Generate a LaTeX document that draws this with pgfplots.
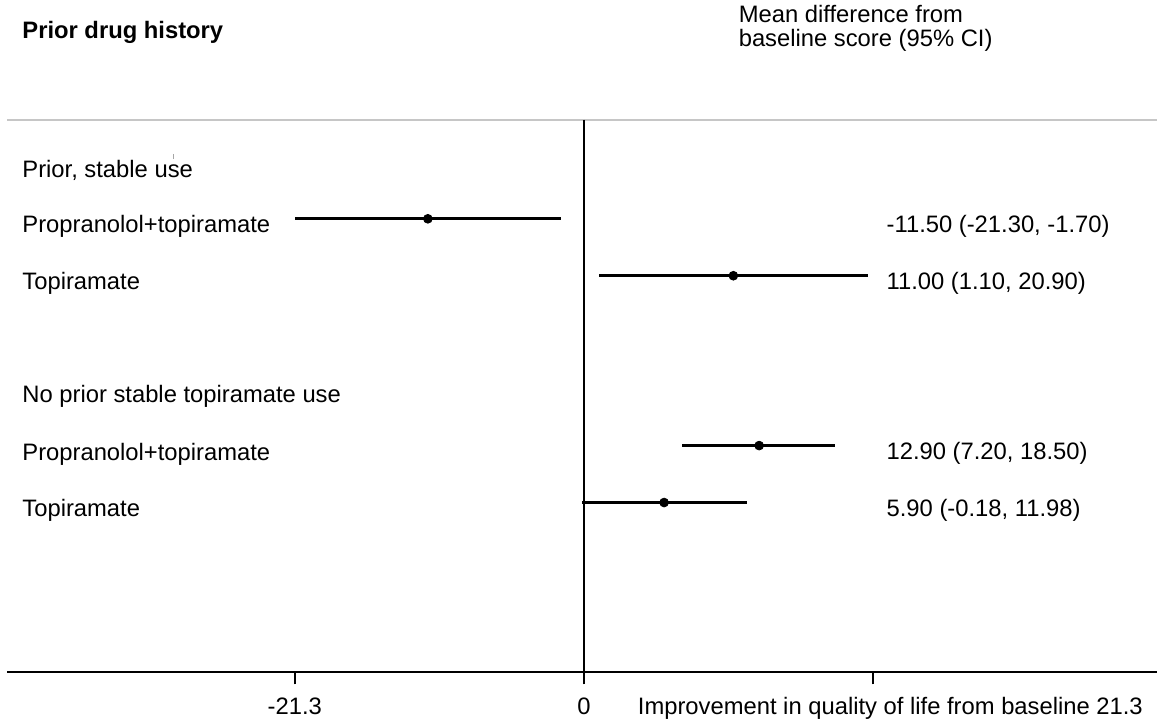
\documentclass[border=0pt]{standalone}
\usepackage{pgfplots}
\pgfplotsset{compat=1.18}
\usepackage{pgfplotstable}
\usepackage{fontspec}
\setmainfont{Liberation Sans}

\pgfplotstableread{
est   y     em    ep
-11.50 -219 9.80 9.80
11.00 -276 9.90 9.90
12.90 -446 5.70 5.60
5.90  -503 6.08 6.08
}\cidata

\begin{document}
\begin{tikzpicture}[font=\fontsize{11.9}{14}\selectfont, every node/.style={inner sep=0pt}]
\begin{axis}[
  scale only axis,
  width=575.5pt, height=276.5pt,
  xmin=-42.49, xmax=42.20,
  ymin=-673, ymax=-120,
  enlargelimits=false,
  clip=false,
  axis x line*=bottom,
  axis y line=none,
  x axis line style={line width=1pt, black, -},
  xtick={-21.3,0,21.3},
  xticklabels={,,},
  tick align=outside,
  major tick length=6pt,
  xtick style={line width=1pt, black},
]
% invisible bounding box (1158 x 724 px)
\path (axis cs:-43.01,0) rectangle (axis cs:42.20,-724);

% top gray rule
\addplot[gray!45, line width=1pt] coordinates {(-42.49,-120) (42.20,-120)};
% zero line
\addplot[black, line width=1pt] coordinates {(0,-120) (0,-673)};

% estimates with CIs
\addplot[only marks, mark=*, mark size=2.2pt, black,
  error bars/.cd, x dir=both, x explicit, error mark=none,
  error bar style={line width=1.4pt, black}]
  table[x=est, y=y, x error minus=em, x error plus=ep] {\cidata};

% small stray tick near "use"
\draw[gray!70, line width=0.5pt] (axis cs:-30.21,-154) -- (axis cs:-30.21,-159);

% headers
\node[anchor=base west, font=\fontsize{11.9}{14}\selectfont\bfseries] at (axis cs:-41.39,-39) {Prior drug history};
\node[anchor=base west] at (axis cs:11.37,-23) {Mean difference from};
\node[anchor=base west] at (axis cs:11.37,-47) {baseline score (95\% CI)};

% left labels
\node[anchor=base west] at (axis cs:-41.39,-178) {Prior, stable use};
\node[anchor=base west] at (axis cs:-41.39,-233) {Propranolol+topiramate};
\node[anchor=base west] at (axis cs:-41.39,-290) {Topiramate};
\node[anchor=base west] at (axis cs:-41.39,-403) {No prior stable topiramate use};
\node[anchor=base west] at (axis cs:-41.39,-461) {Propranolol+topiramate};
\node[anchor=base west] at (axis cs:-41.39,-517) {Topiramate};

% right labels
\node[anchor=base west] at (axis cs:22.26,-233) {-11.50 (-21.30, -1.70)};
\node[anchor=base west] at (axis cs:22.26,-290) {11.00 (1.10, 20.90)};
\node[anchor=base west] at (axis cs:22.26,-460) {12.90 (7.20, 18.50)};
\node[anchor=base west] at (axis cs:22.26,-517) {5.90 (-0.18, 11.98)};

% tick labels
\node[anchor=base] at (axis cs:-21.3,-715) {-21.3};
\node[anchor=base] at (axis cs:0,-715) {0};
\node[anchor=base west] at (axis cs:3.94,-715) {Improvement in quality of life from baseline 21.3};
\end{axis}
\end{tikzpicture}
\end{document}
